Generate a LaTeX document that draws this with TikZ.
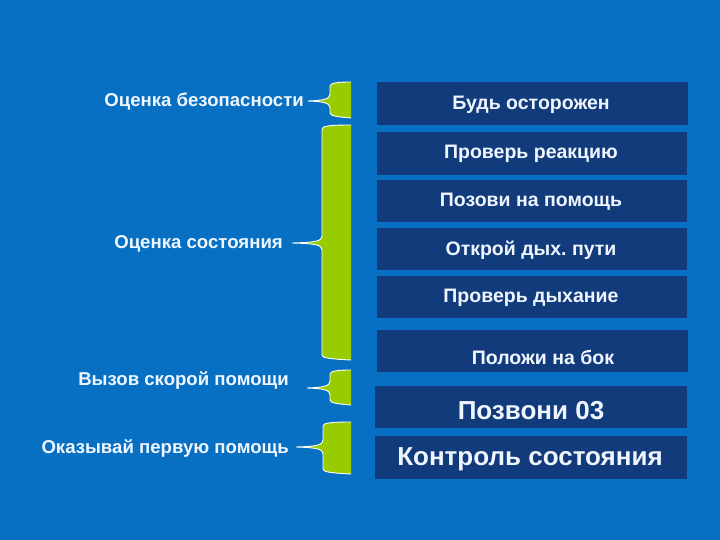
\documentclass[tikz,border=0pt]{standalone}
\usepackage{fontspec}
\setmainfont{Liberation Sans}
\frenchspacing
\definecolor{bgblue}{RGB}{8,112,194}
\definecolor{navy}{RGB}{17,59,122}
\definecolor{lime}{RGB}{153,204,0}
\definecolor{txt}{RGB}{240,246,255}
\tikzset{
  stepbox/.style={fill=navy, draw=none, inner sep=0pt, anchor=north west},
  boxtext/.style={text=txt, font=\fontsize{19.5}{22}\selectfont\bfseries, inner sep=0pt},
  bigtext/.style={text=txt, font=\fontsize{26}{29}\selectfont\bfseries, inner sep=0pt},
  sidelabel/.style={text=txt, font=\fontsize{18.6}{21}\selectfont\bfseries, inner sep=0pt, anchor=east},
}
% bracket: #1 left x, #2 right x, #3 top y, #4 bottom y, #5 mid y, #6 tip x
\newcommand{\mybrace}[6]{%
  \fill[lime] (#2,#3) .. controls (#1+8,#3) and (#1,#3+1) .. (#1,#3+4)
    -- (#1,#5-7) .. controls (#1,#5-2) and (#1-6,#5-0.6) .. (#6,#5)
    .. controls (#1-6,#5+0.6) and (#1,#5+2) .. (#1,#5+7)
    -- (#1,#4-4) .. controls (#1,#4-1) and (#1+8,#4) .. (#2,#4+1) -- cycle;
  \draw[white, line width=0.9pt, line join=round] (#2,#3) .. controls (#1+8,#3) and (#1,#3+1) .. (#1,#3+4)
    -- (#1,#5-7) .. controls (#1,#5-2) and (#1-6,#5-0.6) .. (#6,#5)
    .. controls (#1-6,#5+0.6) and (#1,#5+2) .. (#1,#5+7)
    -- (#1,#4-4) .. controls (#1,#4-1) and (#1+8,#4) .. (#2,#4+1);
}
\begin{document}
\begin{tikzpicture}[x=1pt,y=-1pt]
\fill[bgblue] (0,0) rectangle (720,540);
\useasboundingbox (0,0) rectangle (720,540);
% boxes
\node[stepbox, minimum width=311pt, minimum height=43pt] (b1) at (377,82) {};
\node[stepbox, minimum width=310pt, minimum height=43pt] (b2) at (377,132) {};
\node[stepbox, minimum width=310pt, minimum height=42pt] (b3) at (377,180) {};
\node[stepbox, minimum width=310pt, minimum height=42pt] (b4) at (377,228) {};
\node[stepbox, minimum width=310pt, minimum height=42pt] (b5) at (377,276) {};
\node[stepbox, minimum width=311pt, minimum height=42pt] (b6) at (377,330) {};
\node[stepbox, minimum width=312pt, minimum height=42pt] (b7) at (375,386) {};
\node[stepbox, minimum width=312pt, minimum height=43pt] (b8) at (375,436) {};
% box texts
\node[boxtext] (t1) at (531,105) {Будь осторожен};
\node[boxtext] (t2) at (531,154) {Проверь реакцию};
\node[boxtext] (t3) at (531,202) {Позови на помощь};
\node[boxtext] (t4) at (531,250) {Открой дых.\ пути};
\node[boxtext] (t5) at (531,298) {Проверь дыхание};
\node[boxtext] (t6) at (543,357) {Положи на бок};
\node[bigtext] (t7) at (531,411) {Позвони 03};
\node[bigtext] (t8) at (530,459) {Контроль состояния};
% brackets
\mybrace{330}{351}{82}{117}{101}{308}
\mybrace{322}{351}{125}{359}{243}{292}
\mybrace{330}{351}{370}{404}{388}{307}
\mybrace{323}{351}{422}{473}{447}{296}
% labels
\node[sidelabel] (l1) at (304,102) {Оценка безопасности};
\node[sidelabel] (l2) at (283,244) {Оценка состояния};
\node[sidelabel] (l3) at (289,381) {Вызов скорой помощи};
\node[sidelabel] (l4) at (289,449) {Оказывай первую помощь};
\end{tikzpicture}
\end{document}
